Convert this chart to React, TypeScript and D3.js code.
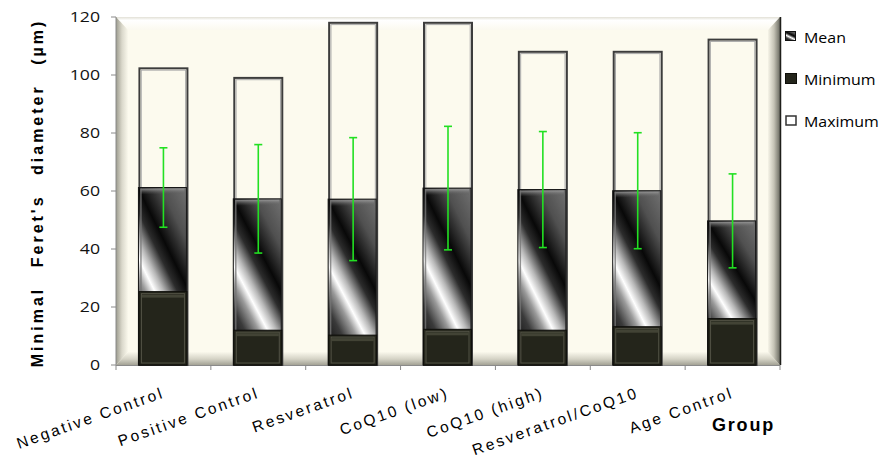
import React from "react";
import * as d3 from "d3";

const categories = [
  "Negative Control",
  "Positive Control",
  "Resveratrol",
  "CoQ10 (low)",
  "CoQ10 (high)",
  "Resveratrol/CoQ10",
  "Age Control",
];
const maxVals = [102.3, 99, 118, 118, 108, 108, 112.2];
const meanVals = [61.2, 57.3, 57.2, 61, 60.5, 60.1, 49.7];
const minVals = [25.3, 12, 10.3, 12.3, 12, 13.2, 16];
const sdVals = [13.7, 18.7, 21.2, 21.3, 20, 20, 16.2];
const yTicks = [0, 20, 40, 60, 80, 100, 120];
const legendItems = ["Mean", "Minimum", "Maximum"];

const W = 882;
const H = 459;
const L = 116;
const R = 780;
const T = 17;
const B = 365;
const BEV = 12;
const CREAM = "#fcfaee";

export default function App() {
  const x = d3
    .scaleBand<string>()
    .domain(categories)
    .range([L, R])
    .paddingInner(0.494)
    .paddingOuter(0.247);
  const y = d3.scaleLinear().domain([0, 120]).range([B, T]);
  const step = x.step();
  const bw = x.bandwidth();
  const uiFont = "'Open Sans', 'Noto Sans', sans-serif";
  const arial = "'Liberation Sans', Arial, sans-serif";

  return (
    <svg
      width={W}
      height={H}
      style={{ position: "absolute", left: 0, top: 0, background: "#fff" }}
    >
      <defs>
        <linearGradient id="meanGrad" x1="0.8" y1="-0.1" x2="0.25" y2="0.9">
          <stop offset="0" stopColor="#707070" />
          <stop offset="0.22" stopColor="#505050" />
          <stop offset="0.42" stopColor="#080808" />
          <stop offset="0.52" stopColor="#2c2c2c" />
          <stop offset="0.64" stopColor="#b8b8b8" />
          <stop offset="0.72" stopColor="#ffffff" />
          <stop offset="0.8" stopColor="#9a9a9a" />
          <stop offset="0.92" stopColor="#3a3a3a" />
          <stop offset="1" stopColor="#262626" />
        </linearGradient>
        <linearGradient id="meanTop" x1="0" y1="0" x2="0" y2="1">
          <stop offset="0" stopColor="#9a9a9a" stopOpacity="0.9" />
          <stop offset="1" stopColor="#555" stopOpacity="0" />
        </linearGradient>
        <linearGradient id="bevTop" x1="0" y1="0" x2="0" y2="1">
          <stop offset="0" stopColor="#e2e0d6" />
          <stop offset="0.25" stopColor="#ffffff" />
          <stop offset="1" stopColor="#fbf9ef" />
        </linearGradient>
        <linearGradient id="bevLeft" x1="0" y1="0" x2="1" y2="0">
          <stop offset="0" stopColor="#9c9b8e" />
          <stop offset="0.5" stopColor="#dad8cb" />
          <stop offset="1" stopColor="#faf8ec" />
        </linearGradient>
        <linearGradient id="bevBottom" x1="0" y1="0" x2="0" y2="1">
          <stop offset="0" stopColor="#faf8ec" />
          <stop offset="0.55" stopColor="#d4d2c5" />
          <stop offset="1" stopColor="#a3a295" />
        </linearGradient>
        <linearGradient id="bevRight" x1="0" y1="0" x2="1" y2="0">
          <stop offset="0" stopColor="#f6f4e8" />
          <stop offset="0.5" stopColor="#c4c2b5" />
          <stop offset="1" stopColor="#6a6a61" />
        </linearGradient>
      </defs>

      {/* plot area */}
      <rect x={L} y={T} width={R - L} height={B - T} fill={CREAM} />
      <polygon
        points={`${L},${T} ${R},${T} ${R - BEV},${T + BEV + 1} ${L + BEV},${T + BEV + 1}`}
        fill="url(#bevTop)"
      />
      <polygon
        points={`${L},${T} ${L + BEV},${T + BEV + 1} ${L + BEV},${B - BEV - 1} ${L},${B}`}
        fill="url(#bevLeft)"
      />
      <polygon
        points={`${L},${B} ${L + BEV},${B - BEV - 1} ${R - BEV},${B - BEV - 1} ${R},${B}`}
        fill="url(#bevBottom)"
      />
      <polygon
        points={`${R},${T} ${R},${B} ${R - BEV},${B - BEV - 1} ${R - BEV},${T + BEV + 1}`}
        fill="url(#bevRight)"
      />
      <line x1={R + 0.5} x2={R + 0.5} y1={T} y2={B} stroke="#1e1e1a" strokeWidth={1.5} />

      {/* axes */}
      <line x1={L} x2={L} y1={T} y2={B} stroke="#8a8a8a" />
      {yTicks.map((t) => (
        <g key={"yt" + t}>
          <line x1={L - 5} x2={L} y1={y(t)} y2={y(t)} stroke="#8a8a8a" />
          <text
            transform={`translate(${L - 16},${y(t) + 5}) scale(1.22,1)`}
            textAnchor="end"
            fontFamily={uiFont}
            fontSize={14.5}
            fill="#111"
          >
            {t}
          </text>
        </g>
      ))}
      <line x1={L} x2={R} y1={B + 0.5} y2={B + 0.5} stroke="#8a8a8a" />
      {d3.range(categories.length + 1).map((i) => (
        <line
          key={"xt" + i}
          x1={L + i * step}
          x2={L + i * step}
          y1={B}
          y2={B + 5}
          stroke="#8a8a8a"
        />
      ))}

      {/* bars */}
      {categories.map((c, i) => {
        const x0 = x(c) as number;
        const yMax = y(maxVals[i]);
        const yMean = y(meanVals[i]);
        const yMin = y(minVals[i]);
        return (
          <g key={"bar" + c}>
            <rect
              x={x0}
              y={yMax}
              width={bw}
              height={B - yMax}
              fill={CREAM}
              stroke="#3c3c3c"
              strokeWidth={2}
            />
            <rect
              x={x0 + 1.8}
              y={yMax + 1.8}
              width={bw - 3.6}
              height={B - yMax - 3.6}
              fill="none"
              stroke="#a8a8a8"
              strokeWidth={1}
            />
            <rect
              x={x0 - 1}
              y={yMean}
              width={bw}
              height={B - yMean}
              fill="url(#meanGrad)"
              stroke="#151515"
              strokeWidth={1}
            />
            <rect
              x={x0 + 1}
              y={yMean + 1}
              width={bw - 4}
              height={6}
              fill="url(#meanTop)"
            />
            <line
              x1={x0 + 1.5}
              x2={x0 + 1.5}
              y1={yMean + 1}
              y2={B}
              stroke="#777"
              strokeWidth={1.5}
              opacity={0.8}
            />
            <rect
              x={x0 - 0.5}
              y={yMin}
              width={bw}
              height={B - yMin}
              fill="#24251b"
              stroke="#0e0e0a"
              strokeWidth={1}
            />
            <rect
              x={x0 + 2}
              y={yMin + 2}
              width={bw - 5}
              height={B - yMin - 4}
              fill="none"
              stroke="#5b5b4c"
              strokeWidth={1}
              opacity={0.85}
            />
            <rect
              x={x0 + 2.5}
              y={yMin + 3}
              width={bw - 6}
              height={3}
              fill="#4a4b3c"
              opacity={0.8}
            />
          </g>
        );
      })}

      {/* error bars */}
      {categories.map((c, i) => {
        const cx = (x(c) as number) + bw / 2;
        const yt = y(meanVals[i] + sdVals[i]);
        const yb = y(meanVals[i] - sdVals[i]);
        return (
          <g key={"err" + c} stroke="#22e022" strokeWidth={1.6}>
            <line x1={cx} x2={cx} y1={yt} y2={yb} />
            <line x1={cx - 4} x2={cx + 4} y1={yt} y2={yt} />
            <line x1={cx - 4} x2={cx + 4} y1={yb} y2={yb} />
          </g>
        );
      })}

      {/* x labels */}
      {categories.map((c) => {
        const cx = (x(c) as number) + bw / 2 + 2;
        return (
          <text
            key={"xl" + c}
            transform={`translate(${cx},397) rotate(-19.5)`}
            textAnchor="end"
            fontFamily={arial}
            fontSize={15.5}
            letterSpacing={2.5}
            fill="#000"
          >
            {c}
          </text>
        );
      })}
      <text
        x={712}
        y={431}
        fontFamily={arial}
        fontSize={18}
        fontWeight="bold"
        letterSpacing={1.8}
        fill="#000"
      >
        Group
      </text>

      {/* y title */}
      <text
        transform={`translate(43,193) rotate(-90)`}
        textAnchor="middle"
        fontFamily={arial}
        fontSize={16}
        fontWeight="bold"
        letterSpacing={3}
        wordSpacing={12}
        fill="#000"
      >
        Minimal Feret's diameter (µm)
      </text>

      {/* legend */}
      {legendItems.map((name, i) => {
        const ly = 43 + i * 42;
        return (
          <g key={"lg" + name}>
            {i === 0 && (
              <rect x={785.5} y={ly - 11.5} width={10} height={9} fill="url(#meanGrad)" stroke="#111" strokeWidth={1} />
            )}
            {i === 1 && (
              <rect x={785.5} y={ly - 11.5} width={11} height={10} fill="#24251b" stroke="#0e0e0a" strokeWidth={1} />
            )}
            {i === 2 && (
              <rect x={786} y={ly - 11} width={10} height={9} fill="#fff" stroke="#333" strokeWidth={1.5} />
            )}
            <text
              transform={`translate(804,${ly}) scale(1.14,1)`}
              fontFamily={uiFont}
              fontSize={14}
              fill="#000"
            >
              {name}
            </text>
          </g>
        );
      })}
    </svg>
  );
}
